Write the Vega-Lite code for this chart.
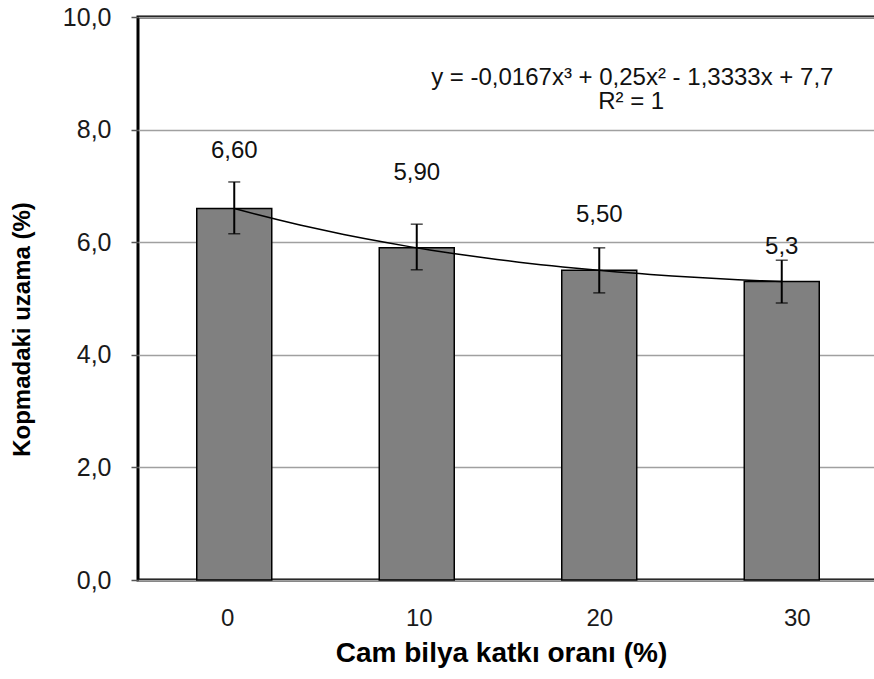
{
  "$schema": "https://vega.github.io/schema/vega-lite/v6.json",
  "autosize": "none",
  "padding": {"left": 138, "top": 17, "right": 0, "bottom": 99},
  "width": 740,
  "height": 563,
  "background": "white",
  "config": {
    "font": "Liberation Sans",
    "view": {"stroke": "black", "strokeWidth": 3}
  },
  "data": {
    "values": [
      {"x": 0, "value": 6.6, "lo": 6.15, "hi": 7.07, "label": "6,60", "labelPos": 7.62},
      {"x": 10, "value": 5.9, "lo": 5.51, "hi": 6.32, "label": "5,90", "labelPos": 7.23},
      {"x": 20, "value": 5.5, "lo": 5.1, "hi": 5.9, "label": "5,50", "labelPos": 6.48},
      {"x": 30, "value": 5.3, "lo": 4.92, "hi": 5.68, "label": "5,3", "labelPos": 5.91}
    ]
  },
  "encoding": {
    "x": {
      "field": "x",
      "type": "quantitative",
      "scale": {"domain": [-5, 35], "nice": false, "zero": false},
      "axis": {
        "values": [0, 10, 20, 30],
        "grid": false,
        "domain": false,
        "ticks": false,
        "labelFontSize": 24,
        "labelColor": "#1a1a1a",
        "labelPadding": 26,
        "labelOffset": {"expr": "datum.value == 0 ? -7 : (datum.value == 30 ? 15 : (datum.value == 10 ? 2 : 0))"},
        "title": "Cam bilya katkı oranı (%)",
        "titleFontSize": 28,
        "titleFontWeight": "bold",
        "titleColor": "black",
        "titleX": 363,
        "titleY": 73,
        "titleBaseline": "middle",
        "titleAnchor": null
      }
    },
    "y": {
      "field": "value",
      "type": "quantitative",
      "scale": {"domain": [0, 10], "nice": false},
      "axis": {
        "values": [0, 2, 4, 6, 8, 10],
        "labelExpr": "replace(format(datum.value, '.1f'), '.', ',')",
        "grid": true,
        "gridColor": "#a0a0a0",
        "gridWidth": 1.5,
        "domain": false,
        "ticks": true,
        "tickSize": 7,
        "tickColor": "#555555",
        "tickWidth": 1.5,
        "labelFontSize": 25,
        "labelColor": "#1a1a1a",
        "labelPadding": 20,
        "title": "Kopmadaki uzama (%)",
        "titleFontSize": 24,
        "titleFontWeight": "bold",
        "titleColor": "black",
        "titleX": -116,
        "titleY": 312,
        "titleAngle": -90,
        "titleBaseline": "middle",
        "titleAnchor": null
      }
    }
  },
  "layer": [
    {
      "mark": {"type": "bar", "size": 75, "fill": "#808080", "stroke": "black", "strokeWidth": 1.5}
    },
    {
      "transform": [{"regression": "value", "on": "x", "method": "poly", "order": 3}],
      "mark": {"type": "line", "color": "black", "strokeWidth": 1.5}
    },
    {
      "mark": {"type": "rule", "color": "black", "strokeWidth": 2},
      "encoding": {"y": {"field": "lo", "type": "quantitative"}, "y2": {"field": "hi"}}
    },
    {
      "mark": {"type": "tick", "orient": "horizontal", "size": 12, "thickness": 1.5, "color": "black"},
      "encoding": {"y": {"field": "lo", "type": "quantitative"}}
    },
    {
      "mark": {"type": "tick", "orient": "horizontal", "size": 12, "thickness": 1.5, "color": "black"},
      "encoding": {"y": {"field": "hi", "type": "quantitative"}}
    },
    {
      "mark": {"type": "text", "fontSize": 24, "color": "#111111", "baseline": "middle", "align": "center"},
      "encoding": {
        "y": {"field": "labelPos", "type": "quantitative"},
        "text": {"field": "label"}
      }
    },
    {
      "transform": [{"filter": "datum.x == 0"}],
      "mark": {"type": "text", "fontSize": 24, "color": "#111111", "baseline": "alphabetic", "align": "center"},
      "encoding": {
        "x": {"datum": 21.81},
        "y": {"datum": 8.8},
        "text": {"value": "y = -0,0167x³  + 0,25x² - 1,3333x  + 7,7"}
      }
    },
    {
      "transform": [{"filter": "datum.x == 0"}],
      "mark": {"type": "text", "fontSize": 24, "color": "#111111", "baseline": "alphabetic", "align": "center"},
      "encoding": {
        "x": {"datum": 21.75},
        "y": {"datum": 8.36},
        "text": {"value": "R² = 1"}
      }
    }
  ]
}
